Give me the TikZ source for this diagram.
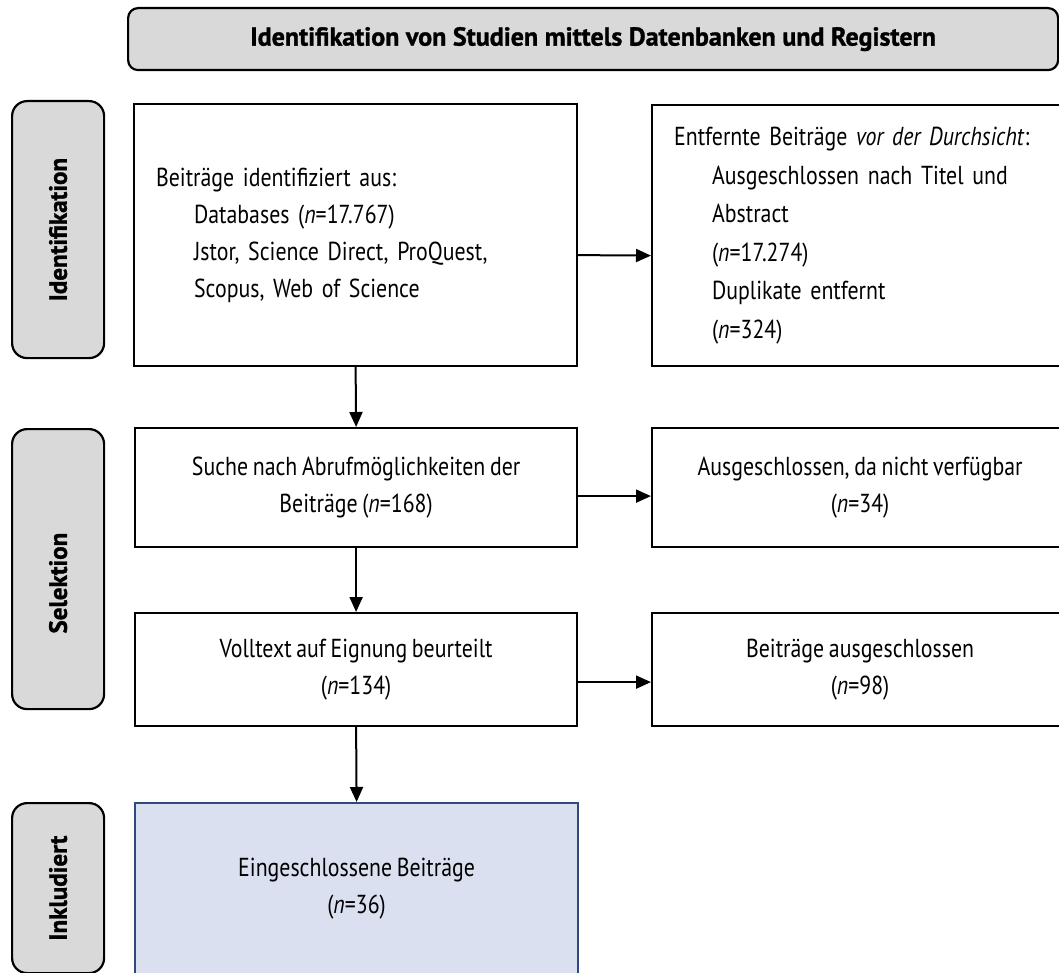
\documentclass[tikz,border=0pt]{standalone}
\usepackage{fontspec}
\setmainfont{PT Sans}[FakeStretch=0.84,WordSpace=0.8]
\newfontfamily\labfont{PT Sans}[FakeBold=1.2]
\newfontfamily\headfont{PT Sans}[FakeBold=1.2]
\usetikzlibrary{arrows.meta}
\definecolor{lblgray}{HTML}{D9D9D9}
\definecolor{bluefill}{HTML}{DAE0F0}
\definecolor{blueline}{HTML}{2F4B7C}
\begin{document}
\begin{tikzpicture}[x=1pt,y=-1pt,
  box/.style={draw, line width=2.2pt, inner sep=0pt, anchor=north west,
    align=center, font=\fontsize{26}{37}\selectfont},
  lbl/.style={draw, line width=2.2pt, fill=lblgray, rounded corners=15pt,
    inner sep=0pt, anchor=north west, minimum width=92pt,
    font=\labfont\bfseries\fontsize{25}{28}\selectfont},
  arr/.style={line width=2pt, -{Triangle[length=15pt,width=13pt]}}]
\useasboundingbox (0,0) rectangle (1059,973);
\clip (0,0) rectangle (1059,973);

% banner
\node[draw, line width=2.2pt, fill=lblgray, rounded corners=10pt, inner sep=0pt,
  anchor=north west, minimum width=930pt, minimum height=62pt,
  font=\headfont\bfseries\fontsize{26}{30}\selectfont] (banner) at (127,7)
  {Identifikation von Studien mittels Datenbanken und Registern};

% phase labels
\node[lbl, minimum height=257pt] (lid) at (11,100) {\rotatebox{90}{Identifikation}};
\node[lbl, minimum height=280pt] (lsel) at (11,428) {\rotatebox{90}{Selektion\hspace*{28pt}}};
\node[lbl, minimum height=170pt] (linc) at (11,802) {\rotatebox{90}{Inkludiert}};

% boxes
\node[box, minimum width=443pt, minimum height=262pt, text width=399pt,
  inner xsep=22pt, align=left] (b1) at (133,103)
  {Beiträge identifiziert aus:\\
   \hspace*{38pt}Databases (\textit{n}=17.767)\\
   \hspace*{38pt}Jstor, Science Direct, ProQuest,\\
   \hspace*{38pt}Scopus, Web of Science};

\node[box, minimum width=416pt, minimum height=261pt, text width=372pt,
  inner xsep=22pt, align=left, font=\fontsize{26}{38.5}\selectfont] (b2) at (651,104)
  {Entfernte Beiträge \textit{vor der Durchsicht}:\\
   \hspace*{38pt}Ausgeschlossen nach Titel und\\
   \hspace*{38pt}Abstract\\
   \hspace*{38pt}(\textit{n}=17.274)\\
   \hspace*{38pt}Duplikate entfernt\\
   \hspace*{38pt}(\textit{n}=324)};

\node[box, minimum width=442pt, minimum height=119pt] (b3) at (134,427)
  {Suche nach Abrufmöglichkeiten der\\Beiträge (\textit{n}=168)};
\node[box, minimum width=416pt, minimum height=119pt] (b4) at (651,427)
  {Ausgeschlossen, da nicht verfügbar\\(\textit{n}=34)};
\node[box, minimum width=442pt, minimum height=113pt] (b5) at (134,612)
  {Volltext auf Eignung beurteilt\\(\textit{n}=134)};
\node[box, minimum width=416pt, minimum height=113pt] (b6) at (651,612)
  {Beiträge ausgeschlossen\\(\textit{n}=98)};
\node[box, draw=blueline, fill=bluefill, minimum width=443pt, minimum height=172pt] (b7) at (134,802)
  {Eingeschlossene Beiträge\\(\textit{n}=36)};

% connectors
\draw[arr] (b1.south) -- (b3.north);
\draw[arr] (b5.south) -- (b7.north);
\draw[arr] (b3.south) -- (b5.north);
\draw[arr] ([yshift=-20pt]b1.east) -- ([yshift=-20pt]b2.west);
\draw[arr] ([yshift=-8.5pt]b3.east) -- ([yshift=-8.5pt]b4.west);
\draw[arr] ([yshift=-12.5pt]b5.east) -- ([yshift=-12.5pt]b6.west);
\end{tikzpicture}
\end{document}
